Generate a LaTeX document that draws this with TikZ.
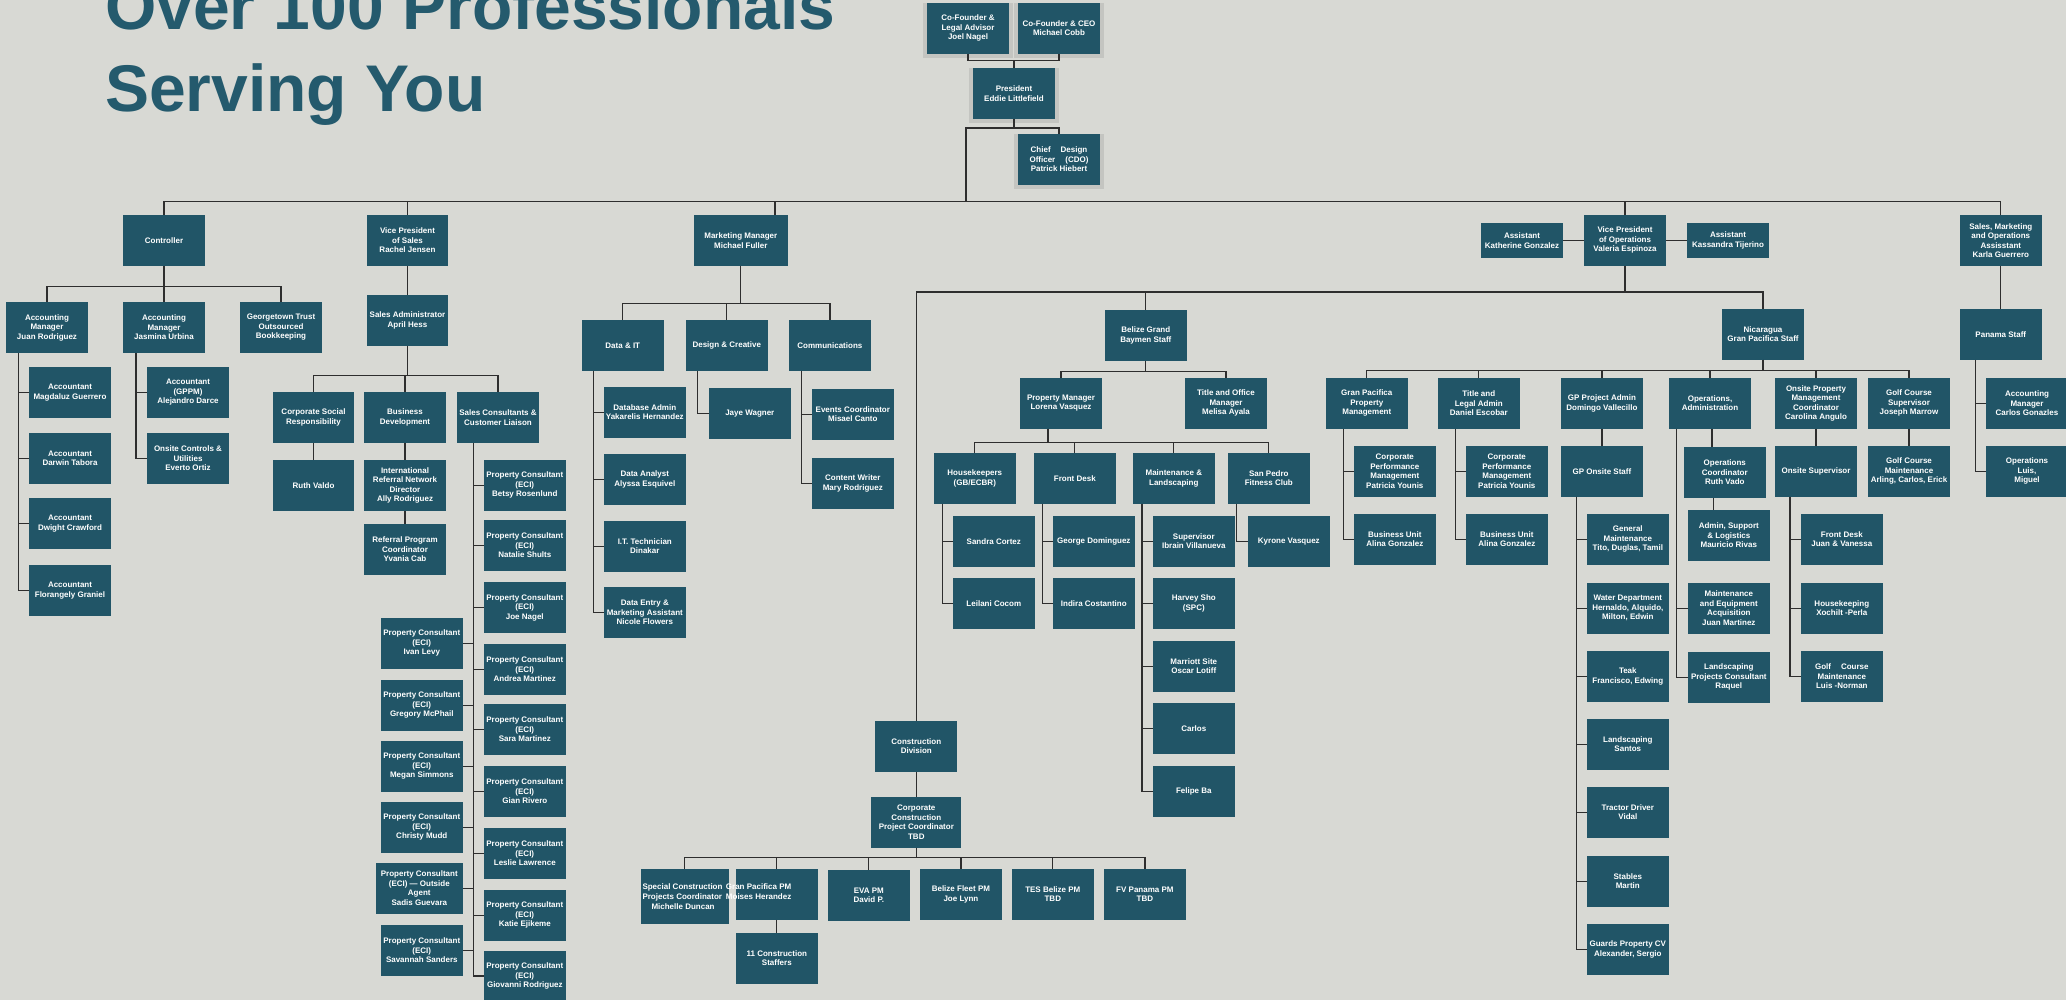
\documentclass[tikz,border=0pt]{standalone}
\usepackage{fontspec}
\setmainfont{Liberation Sans}
\usetikzlibrary{shadows}
\definecolor{pagegray}{HTML}{D8D9D4}
\definecolor{boxteal}{HTML}{215567}
\definecolor{titleteal}{HTML}{245A6D}
\definecolor{linegray}{HTML}{2E2E2E}
\definecolor{shadegray}{HTML}{C4C5C1}
\tikzset{
  staff/.style={rectangle, fill=boxteal, text=white, inner sep=0pt,
    minimum width=81.7pt, minimum height=50.7pt, align=center,
    font=\bfseries\fontsize{8}{9.5}\selectfont},
  lead/.style={staff, general shadow={fill=shadegray, shadow scale=1.1, shadow yshift=-2pt}},
  link/.style={draw=linegray, line width=1.2pt},
  boxtext/.style={text=white, inner sep=0pt, font=\bfseries\fontsize{8}{10}\selectfont},
  headline/.style={anchor=base west, text=titleteal, inner sep=0pt,
    font=\bfseries\fontsize{66}{80}\selectfont}
}

\begin{document}
\begin{tikzpicture}[x=1pt,y=-1pt]
\useasboundingbox (0,0) rectangle (2066,1000);
\fill[pagegray] (0,0) rectangle (2066,1000);
\clip (0,0) rectangle (2066,1000);

\node[headline] (head1) at (105,30) {Over 100 Professionals};
\node[headline] (head2) at (105,112) {Serving You};

\node[lead] (cofL) at (968,28.3) {Co-Founder \&\\Legal Advisor\\Joel Nagel};
\node[lead] (cofC) at (1059,28.3) {Co-Founder \& CEO\\Michael Cobb};
\node[lead] (pres) at (1014,93.4) {President\\Eddie Littlefield};
\node[lead] (cdo) at (1059,159.4) {Chief\hspace{10pt}Design\\Officer\hspace{10pt}(CDO)\\Patrick Hiebert};

\node[staff] (ctrl) at (164,240.5) {Controller};
\node[staff] (vps) at (407.5,240.5) {Vice President\\of Sales\\Rachel Jensen};
\node[staff, minimum width=93.6pt] (mkt) at (740.8,240.4) {Marketing Manager\\Michael Fuller};
\node[staff, minimum height=35.7pt] (asK) at (1522,240.4) {Assistant\\Katherine Gonzalez};
\node[staff] (vpo) at (1625,240.4) {Vice President\\of Operations\\Valeria Espinoza};
\node[staff, minimum height=35.7pt] (asT) at (1728,240.4) {Assistant\\Kassandra Tijerino};
\node[staff] (smo) at (2000.8,240.4) {Sales, Marketing\\and Operations\\Assisstant\\Karla Guerrero};

\node[staff] (am1) at (47,327.5) {Accounting\\Manager\\Juan Rodriguez};
\node[staff] (am2) at (164,327.5) {Accounting\\Manager\\Jasmina Urbina};
\node[staff] (gtt) at (281,327.5) {Georgetown Trust\\Outsourced\\Bookkeeping};
\node[staff] (acc1) at (70,392.5) {Accountant\\Magdaluz Guerrero};
\node[staff] (acc2) at (70,458.5) {Accountant\\Darwin Tabora};
\node[staff] (acc3) at (70,523.5) {Accountant\\Dwight Crawford};
\node[staff] (acc4) at (70,590.5) {Accountant\\Florangely Graniel};
\node[staff] (acc5) at (188,392.5) {Accountant\\(GPPM)\\Alejandro Darce};
\node[staff] (occ) at (188,458.5) {Onsite Controls \&\\Utilities\\Everto Ortiz};

\node[staff] (sadm) at (407.5,320.3) {Sales Administrator\\April Hess};
\node[staff] (csr) at (313.5,417.5) {Corporate Social\\Responsibility};
\node[staff] (bdev) at (405,417.5) {Business\\Development};
\node[staff] (scl) at (498,417.5) {Sales Consultants \&\\Customer Liaison};
\node[staff] (rv) at (313.5,485.3) {Ruth Valdo};
\node[staff] (irnd) at (405,485.3) {International\\Referral Network\\Director\\Ally Rodriguez};
\node[staff] (rpc) at (405,549.3) {Referral Program\\Coordinator\\Yvania Cab};

\node[staff] (pc1) at (524.8,485.3) {Property Consultant\\(ECI)\\Betsy Rosenlund};
\node[staff] (pc2) at (524.8,545.3) {Property Consultant\\(ECI)\\Natalie Shults};
\node[staff] (pc3) at (524.8,607.5) {Property Consultant\\(ECI)\\Joe Nagel};
\node[staff] (pc4) at (524.8,669.3) {Property Consultant\\(ECI)\\Andrea Martinez};
\node[staff] (pc5) at (524.8,729.3) {Property Consultant\\(ECI)\\Sara Martinez};
\node[staff] (pc6) at (524.8,791.4) {Property Consultant\\(ECI)\\Gian Rivero};
\node[staff] (pc7) at (524.8,853.3) {Property Consultant\\(ECI)\\Leslie Lawrence};
\node[staff] (pc8) at (524.8,915.3) {Property Consultant\\(ECI)\\Katie Ejikeme};
\node[staff] (pc9) at (524.8,976) {Property Consultant\\(ECI)\\Giovanni Rodriguez};
\node[staff] (pl1) at (421.8,643.3) {Property Consultant\\(ECI)\\Ivan Levy};
\node[staff] (pl2) at (421.8,705.3) {Property Consultant\\(ECI)\\Gregory McPhail};
\node[staff] (pl3) at (421.8,766.4) {Property Consultant\\(ECI)\\Megan Simmons};
\node[staff] (pl4) at (421.8,827.3) {Property Consultant\\(ECI)\\Christy Mudd};
\node[staff, minimum width=86.7pt] (pl5) at (419.3,888.3) {Property Consultant\\(ECI) --- Outside\\Agent\\Sadis Guevara};
\node[staff] (pl6) at (421.8,950.3) {Property Consultant\\(ECI)\\Savannah Sanders};

\node[staff] (dit) at (622.8,345.3) {Data \& IT};
\node[staff] (dcr) at (726.8,345.3) {Design \& Creative};
\node[staff] (com) at (829.9,345.3) {Communications};
\node[staff] (dba) at (644.8,412.3) {Database Admin\\Yakarelis Hernandez};
\node[staff] (dan) at (644.8,479.2) {Data Analyst\\Alyssa Esquivel};
\node[staff] (itt) at (644.8,546.3) {I.T. Technician\\Dinakar};
\node[staff] (den) at (644.8,612.3) {Data Entry \&\\Marketing Assistant\\Nicole Flowers};
\node[staff] (jaye) at (749.8,413.3) {Jaye Wagner};
\node[staff] (evc) at (852.8,414.3) {Events Coordinator\\Misael Canto};
\node[staff] (cw) at (852.8,483.5) {Content Writer\\Mary Rodriguez};

\node[staff] (bgb) at (1145.8,335.3) {Belize Grand\\Baymen Staff};
\node[staff] (nic) at (1763,334.3) {Nicaragua\\Gran Pacifica Staff};
\node[staff] (con) at (916.3,746.3) {Construction\\Division};
\node[staff] (pm) at (1061,403.3) {Property Manager\\Lorena Vasquez};
\node[staff] (tom) at (1226,403.3) {Title and Office\\Manager\\Melisa Ayala};
\node[staff] (hk) at (974.8,478.3) {Housekeepers\\(GB/ECBR)};
\node[staff] (fd) at (1074.8,478.3) {Front Desk};
\node[staff] (ml) at (1173.8,478.3) {Maintenance \&\\Landscaping};
\node[staff] (sp) at (1268.8,478.3) {San Pedro\\Fitness Club};
\node[staff] (hk1) at (993.8,541.3) {Sandra Cortez};
\node[staff] (hk2) at (993.8,603.5) {Leilani Cocom};
\node[staff] (fd1) at (1093.8,541.3) {George Dominguez};
\node[staff] (fd2) at (1093.8,603.5) {Indira Costantino};
\node[staff] (ml1) at (1193.8,541.3) {Supervisor\\Ibrain Villanueva};
\node[staff] (ml2) at (1193.8,603.5) {Harvey Sho\\(SPC)};
\node[staff] (ml3) at (1193.8,666.3) {Marriott Site\\Oscar Lotiff};
\node[staff] (ml4) at (1193.8,728.3) {Carlos};
\node[staff] (ml5) at (1193.8,791.3) {Felipe Ba};
\node[staff] (sp1) at (1288.8,541.3) {Kyrone Vasquez};

\node[staff] (gppm) at (1366.8,403.3) {Gran Pacifica\\Property\\Management};
\node[staff] (tla) at (1478.8,403.3) {Title and\\Legal Admin\\Daniel Escobar};
\node[staff] (gpa) at (1601.9,403.3) {GP Project Admin\\Domingo Vallecillo};
\node[staff] (opa) at (1710,403.3) {Operations,\\Administration};
\node[staff] (opm) at (1816,403.3) {Onsite Property\\Management\\Coordinator\\Carolina Angulo};
\node[staff] (gcs) at (1909,403.3) {Golf Course\\Supervisor\\Joseph Marrow};
\node[staff] (gp1) at (1394.8,471.3) {Corporate\\Performance\\Management\\Patricia Younis};
\node[staff] (gp2) at (1394.8,539.3) {Business Unit\\Alina Gonzalez};
\node[staff] (tl1) at (1506.8,471.3) {Corporate\\Performance\\Management\\Patricia Younis};
\node[staff] (tl2) at (1506.8,539.3) {Business Unit\\Alina Gonzalez};
\node[staff] (gpo) at (1601.9,471.3) {GP Onsite Staff};
\node[staff] (go1) at (1627.8,539.3) {General\\Maintenance\\Tito, Duglas, Tamil};
\node[staff] (go2) at (1627.8,608.3) {Water Department\\Hernaldo, Alquido,\\Milton, Edwin};
\node[staff] (go3) at (1627.8,676.3) {Teak\\Francisco, Edwing};
\node[staff] (go4) at (1627.8,744.3) {Landscaping\\Santos};
\node[staff] (go5) at (1627.8,812.3) {Tractor Driver\\Vidal};
\node[staff] (go6) at (1627.8,881.3) {Stables\\Martin};
\node[staff] (go7) at (1627.8,949.3) {Guards Property CV\\Alexander, Sergio};
\node[staff] (ocr) at (1724.8,472.3) {Operations\\Coordinator\\Ruth Vado};
\node[staff] (oa1) at (1728.8,535.3) {Admin, Support\\\& Logistics\\Mauricio Rivas};
\node[staff] (oa2) at (1728.8,608.3) {Maintenance\\and Equipment\\Acquisition\\Juan Martinez};
\node[staff] (oa3) at (1728.8,677.3) {Landscaping\\Projects Consultant\\Raquel};
\node[staff] (osv) at (1816,471.3) {Onsite Supervisor};
\node[staff] (os1) at (1841.8,539.3) {Front Desk\\Juan \& Vanessa};
\node[staff] (os2) at (1841.8,608.3) {Housekeeping\\Xochilt -Perla};
\node[staff] (os3) at (1841.8,676.3) {Golf\hspace{10pt}Course\\Maintenance\\Luis -Norman};
\node[staff] (gcm) at (1909,471.3) {Golf Course\\Maintenance\\Arling, Carlos, Erick};

\node[staff] (pan) at (2000.8,334.3) {Panama Staff};
\node[staff] (pn1) at (2027,403.3) {Accounting\\Manager\\Carlos Gonazles};
\node[staff] (pn2) at (2027,471.3) {Operations\\Luis,\\Miguel};

\node[staff, minimum width=89.7pt] (ccpc) at (916.3,822.3) {Corporate\\Construction\\Project Coordinator\\TBD};
\node[staff, minimum width=87.6pt, minimum height=54.7pt] (cn1) at (684.8,896.3) {};
\node[staff] (cn2) at (776.8,894.3) {};
\node[staff] (cn3) at (868.8,895.3) {EVA PM\\David P.};
\node[staff] (cn4) at (960.9,894.3) {Belize Fleet PM\\Joe Lynn};
\node[staff] (cn5) at (1052.8,894.3) {TES Belize PM\\TBD};
\node[staff] (cn6) at (1144.9,894.3) {FV Panama PM\\TBD};
\node[staff] (cn7) at (776.8,958.3) {11 Construction\\Staffers};
\node[boxtext, anchor=west, align=left] (cn1txt) at ([xshift=1.5pt]cn1.west) {Special Construction\\Projects Coordinator\\\hspace{9pt}Michelle Duncan};
\node[boxtext, anchor=west, align=left] (cn2txt) at ([xshift=-10pt,yshift=3pt]cn2.west) {Gran Pacifica PM\\Moises Herandez};

\draw[link] (cofL.south) -- ++(0,6.7) -| (cofC.south);
\draw[link] (pres.north) -- ++(0,-8);
\draw[link] (pres.south) -- ++(0,9) -| (cdo.north);
\coordinate (hub) at (966,201.7);
\draw[link] (pres.south) -- ++(0,9) -| (hub);
\draw[link] (hub) -| (ctrl.north);
\draw[link] (hub) -| (vps.north);
\draw[link] (hub) -| ([xshift=34.2pt]mkt.north);
\draw[link] (hub) -| (vpo.north);
\draw[link] (hub) -| (smo.north);
\draw[link] (asK.east) -- (vpo.west);
\draw[link] (vpo.east) -- (asT.west);

\draw[link] (ctrl.south) -- ++(0,20.7) -| (am1.north);
\draw[link] (ctrl.south) -- ++(0,20.7) -| (am2.north);
\draw[link] (ctrl.south) -- ++(0,20.7) -| (gtt.north);
\draw[link] ([xshift=12.5pt]am1.south west) |- (acc1.west);
\draw[link] ([xshift=12.5pt]am1.south west) |- (acc2.west);
\draw[link] ([xshift=12.5pt]am1.south west) |- (acc3.west);
\draw[link] ([xshift=12.5pt]am1.south west) |- (acc4.west);
\draw[link] ([xshift=13pt]am2.south west) |- (acc5.west);
\draw[link] ([xshift=13pt]am2.south west) |- (occ.west);

\draw[link] (vps) -- (sadm);
\draw[link] (sadm.south) -- ++(0,30) -| (csr.north);
\draw[link] (sadm.south) -- ++(0,30) -| (bdev.north);
\draw[link] (sadm.south) -- ++(0,30) -| (scl.north);
\draw[link] (csr) -- (rv);
\draw[link] (bdev) -- (irnd);
\draw[link] (irnd) -- (rpc);
\draw[link] ([xshift=16.3pt]scl.south west) |- (pc1.west);
\draw[link] ([xshift=16.3pt]scl.south west) |- (pc2.west);
\draw[link] ([xshift=16.3pt]scl.south west) |- (pc3.west);
\draw[link] ([xshift=16.3pt]scl.south west) |- (pc4.west);
\draw[link] ([xshift=16.3pt]scl.south west) |- (pc5.west);
\draw[link] ([xshift=16.3pt]scl.south west) |- (pc6.west);
\draw[link] ([xshift=16.3pt]scl.south west) |- (pc7.west);
\draw[link] ([xshift=16.3pt]scl.south west) |- (pc8.west);
\draw[link] ([xshift=16.3pt]scl.south west) |- (pc9.west);
\draw[link] ([xshift=16.3pt]scl.south west) |- (pl1.east);
\draw[link] ([xshift=16.3pt]scl.south west) |- (pl2.east);
\draw[link] ([xshift=16.3pt]scl.south west) |- (pl3.east);
\draw[link] ([xshift=16.3pt]scl.south west) |- (pl4.east);
\draw[link] ([xshift=16.3pt]scl.south west) |- (pl5.east);
\draw[link] ([xshift=16.3pt]scl.south west) |- (pl6.east);

\draw[link] (mkt.south) -- ++(0,37.6) -| (dit.north);
\draw[link] (mkt.south) -- ++(0,37.6) -| (dcr.north);
\draw[link] (mkt.south) -- ++(0,37.6) -| (com.north);
\draw[link] ([xshift=11.4pt]dit.south west) |- (dba.west);
\draw[link] ([xshift=11.4pt]dit.south west) |- (dan.west);
\draw[link] ([xshift=11.4pt]dit.south west) |- (itt.west);
\draw[link] ([xshift=11.4pt]dit.south west) |- (den.west);
\draw[link] ([xshift=12pt]dcr.south west) |- (jaye.west);
\draw[link] ([xshift=12.4pt]com.south west) |- (evc.west);
\draw[link] ([xshift=12.4pt]com.south west) |- (cw.west);

\draw[link] (vpo.south) -- ++(0,26) -| (con.north);
\draw[link] (vpo.south) -- ++(0,26) -| (bgb.north);
\draw[link] (vpo.south) -- ++(0,26) -| (nic.north);
\draw[link] (bgb.south) -- ++(0,10.3) -| (pm.north);
\draw[link] (bgb.south) -- ++(0,10.3) -| (tom.north);
\draw[link] ([xshift=-13pt]pm.south) -- ++(0,14) -| (hk.north);
\draw[link] ([xshift=-13pt]pm.south) -- ++(0,14) -| (fd.north);
\draw[link] ([xshift=-13pt]pm.south) -- ++(0,14) -| (ml.north);
\draw[link] ([xshift=-13pt]pm.south) -- ++(0,14) -| (sp.north);
\draw[link] ([xshift=8.7pt]hk.south west) |- (hk1.west);
\draw[link] ([xshift=8.7pt]hk.south west) |- (hk2.west);
\draw[link] ([xshift=8.7pt]fd.south west) |- (fd1.west);
\draw[link] ([xshift=8.7pt]fd.south west) |- (fd2.west);
\draw[link] ([xshift=9.3pt]ml.south west) |- (ml1.west);
\draw[link] ([xshift=9.3pt]ml.south west) |- (ml2.west);
\draw[link] ([xshift=9.3pt]ml.south west) |- (ml3.west);
\draw[link] ([xshift=9.3pt]ml.south west) |- (ml4.west);
\draw[link] ([xshift=9.3pt]ml.south west) |- (ml5.west);
\draw[link] ([xshift=9pt]sp.south west) |- (sp1.west);

\draw[link] (nic.south) -- ++(0,10.3) -| (gppm.north);
\draw[link] (nic.south) -- ++(0,10.3) -| (tla.north);
\draw[link] (nic.south) -- ++(0,10.3) -| (gpa.north);
\draw[link] (nic.south) -- ++(0,10.3) -| (opa.north);
\draw[link] (nic.south) -- ++(0,10.3) -| (opm.north);
\draw[link] (nic.south) -- ++(0,10.3) -| (gcs.north);
\draw[link] ([xshift=18pt]gppm.south west) |- (gp1.west);
\draw[link] ([xshift=18pt]gppm.south west) |- (gp2.west);
\draw[link] ([xshift=17.7pt]tla.south west) |- (tl1.west);
\draw[link] ([xshift=17.7pt]tla.south west) |- (tl2.west);
\draw[link] (gpa) -- (gpo);
\draw[link] ([xshift=15.7pt]gpo.south west) |- (go1.west);
\draw[link] ([xshift=15.7pt]gpo.south west) |- (go2.west);
\draw[link] ([xshift=15.7pt]gpo.south west) |- (go3.west);
\draw[link] ([xshift=15.7pt]gpo.south west) |- (go4.west);
\draw[link] ([xshift=15.7pt]gpo.south west) |- (go5.west);
\draw[link] ([xshift=15.7pt]gpo.south west) |- (go6.west);
\draw[link] ([xshift=15.7pt]gpo.south west) |- (go7.west);
\draw[link] ([xshift=2pt]opa.south) -- ([xshift=2pt]opa.south |- ocr.north);
\draw[link] ([xshift=3.5pt]opa.south |- ocr.south) -- ([xshift=3.5pt]opa.south |- oa1.north);
\draw[link] ([xshift=7.5pt]opa.south west) |- (oa2.west);
\draw[link] ([xshift=7.5pt]opa.south west) |- (oa3.west);
\draw[link] (opm) -- (osv);
\draw[link] ([xshift=15pt]osv.south west) |- (os1.west);
\draw[link] ([xshift=15pt]osv.south west) |- (os2.west);
\draw[link] ([xshift=15pt]osv.south west) |- (os3.west);
\draw[link] (gcs) -- (gcm);
\draw[link] (smo) -- (pan);
\draw[link] ([xshift=15.5pt]pan.south west) |- (pn1.west);
\draw[link] ([xshift=15.5pt]pan.south west) |- (pn2.west);

\draw[link] (con) -- (ccpc);
\draw[link] (ccpc.south) -- ++(0,10) -| (cn1.north);
\draw[link] (ccpc.south) -- ++(0,10) -| (cn2.north);
\draw[link] (ccpc.south) -- ++(0,10) -| (cn3.north);
\draw[link] (ccpc.south) -- ++(0,10) -| (cn4.north);
\draw[link] (ccpc.south) -- ++(0,10) -| (cn5.north);
\draw[link] (ccpc.south) -- ++(0,10) -| (cn6.north);
\draw[link] (cn2) -- (cn7);
\end{tikzpicture}
\end{document}
